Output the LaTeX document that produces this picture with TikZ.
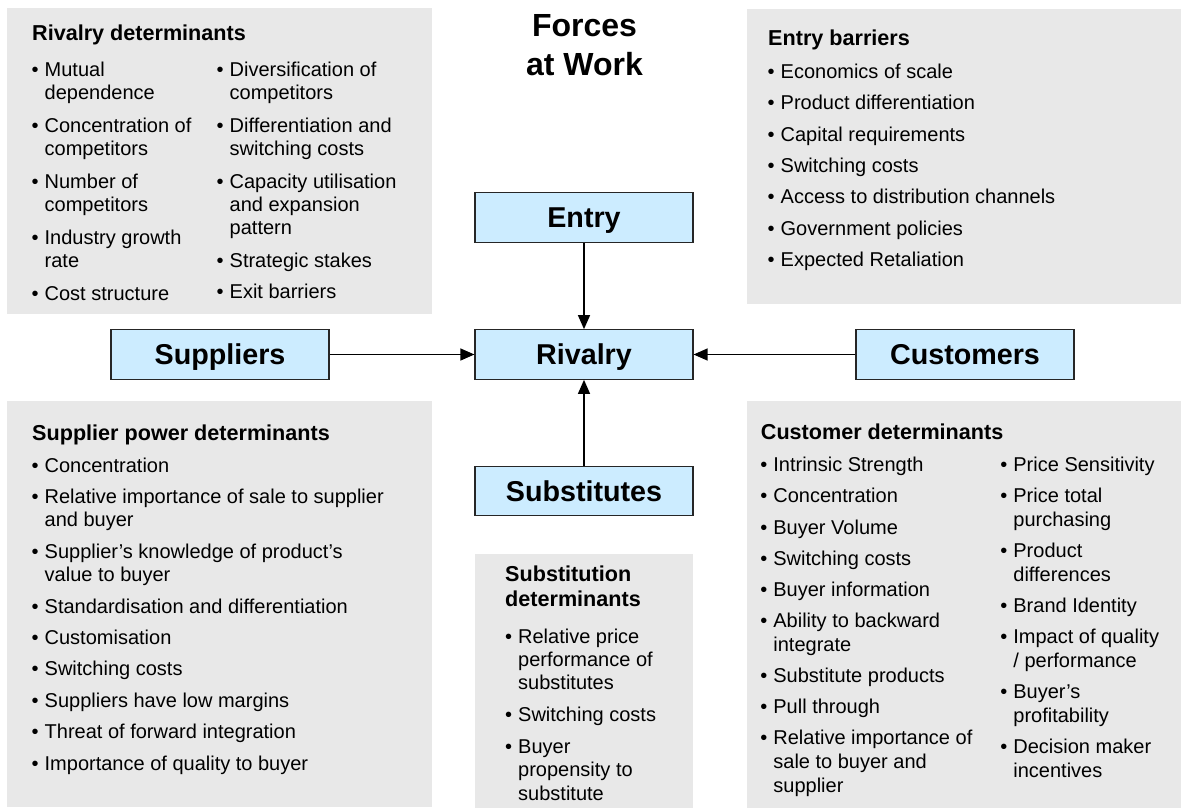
\documentclass[tikz,border=0pt]{standalone}
\usepackage{fontspec}
\setmainfont{Liberation Sans}
\usetikzlibrary{arrows.meta}
\definecolor{greybg}{RGB}{232,232,232}
\definecolor{forceblue}{RGB}{204,236,255}
\newcommand{\blist}[2]{\fontsize{20}{#1}\selectfont\begin{tabular}[t]{@{}p{13pt}@{}l@{}}#2\end{tabular}}
\newcommand{\bt}{\textbullet}
\begin{document}
\begin{tikzpicture}[x=1pt,y=-1pt,
  greybox/.style={fill=greybg,draw=none},
  force/.style={draw=black!85,line width=1.2pt,fill=forceblue,minimum width=218pt,minimum height=49.5pt,inner sep=0pt,text height=20.5pt,text depth=0pt,font=\fontsize{28.7}{32}\selectfont\bfseries},
  heading/.style={anchor=base west,inner sep=0pt,font=\fontsize{21.6}{25}\selectfont\bfseries},
  listnode/.style={anchor=base west,inner sep=0pt},
  arr/.style={line width=1.3pt,-{Triangle[length=14pt,width=12pt]}}]
\useasboundingbox (0,0) rectangle (1181,809);
% grey panels
\fill[greybox] (7,8) rectangle (432,314);
\fill[greybox] (747,9) rectangle (1181,304);
\fill[greybox] (7,401) rectangle (432,807);
\fill[greybox] (475,554) rectangle (693,808);
\fill[greybox] (747,401) rectangle (1181,808);
% title
\node[anchor=base,inner sep=0pt,font=\fontsize{32}{39}\selectfont\bfseries] (title) at (584.5,36)
  {\begin{tabular}[t]{@{}c@{}}Forces\\at Work\end{tabular}};
% force boxes
\node[force] (entry) at (584,217.5) {Entry};
\node[force] (rivalry) at (584,354.5) {Rivalry};
\node[force] (substitutes) at (584,491) {Substitutes};
\node[force] (suppliers) at (220,354.5) {Suppliers};
\node[force] (customers) at (965,354.5) {Customers};
% arrows
\draw[arr] (entry) -- (rivalry);
\draw[arr] (substitutes) -- (rivalry);
\draw[arr] (suppliers) -- (rivalry);
\draw[arr] (customers) -- (rivalry);
% Rivalry determinants
\node[heading] (rivh) at (32,40.7) {Rivalry determinants};
\node[listnode] (rivl1) at (31.5,76) {\blist{23.3}{%
\bt & Mutual\\ & dependence\\[9.4pt]
\bt & Concentration of\\ & competitors\\[9.4pt]
\bt & Number of\\ & competitors\\[9.4pt]
\bt & Industry growth\\ & rate\\[9.4pt]
\bt & Cost structure}};
\node[listnode] (rivl2) at (216.5,76) {\blist{23.3}{%
\bt & Diversification of\\ & competitors\\[9.4pt]
\bt & Differentiation and\\ & switching costs\\[9.4pt]
\bt & Capacity utilisation\\ & and expansion\\ & pattern\\[9.4pt]
\bt & Strategic stakes\\[8.2pt]
\bt & Exit barriers}};
% Entry barriers
\node[heading] (enth) at (768,45) {Entry barriers};
\node[listnode] (entl) at (767.5,78.3) {\blist{23.3}{%
\bt & Economics of scale\\[8.1pt]
\bt & Product differentiation\\[8.1pt]
\bt & Capital requirements\\[8.1pt]
\bt & Switching costs\\[8.1pt]
\bt & Access to distribution channels\\[8.1pt]
\bt & Government policies\\[8.1pt]
\bt & Expected Retaliation}};
% Supplier power determinants
\node[heading] (suph) at (32,440) {Supplier power determinants};
\node[listnode] (supl) at (31.5,472) {\blist{22.8}{%
\bt & Concentration\\[9pt]
\bt & Relative importance of sale to supplier\\ & and buyer\\[9pt]
\bt & Supplier’s knowledge of product’s\\ & value to buyer\\[9pt]
\bt & Standardisation and differentiation\\[8.6pt]
\bt & Customisation\\[8.6pt]
\bt & Switching costs\\[8.6pt]
\bt & Suppliers have low margins\\[8.6pt]
\bt & Threat of forward integration\\[8.6pt]
\bt & Importance of quality to buyer}};
% Substitution determinants
\node[heading,font=\fontsize{21.6}{25}\selectfont\bfseries] (subh) at (505,581.7)
  {\begin{tabular}[t]{@{}l@{}}Substitution\\determinants\end{tabular}};
\node[listnode] (subl) at (505,643.3) {\blist{23.3}{%
\bt & Relative price\\ & performance of\\ & substitutes\\[8.5pt]
\bt & Switching costs\\[8.5pt]
\bt & Buyer\\ & propensity to\\ & substitute}};
% Customer determinants
\node[heading] (cush) at (760.7,439.3) {Customer determinants};
\node[listnode] (cusl1) at (760.2,471.7) {\blist{23.6}{%
\bt & Intrinsic Strength\\[7.6pt]
\bt & Concentration\\[7.6pt]
\bt & Buyer Volume\\[7.6pt]
\bt & Switching costs\\[7.6pt]
\bt & Buyer information\\[7.6pt]
\bt & Ability to backward\\ & integrate\\[7.6pt]
\bt & Substitute products\\[7.6pt]
\bt & Pull through\\[7.6pt]
\bt & Relative importance of\\ & sale to buyer and\\ & supplier}};
\node[listnode] (cusl2) at (1000.2,471.7) {\blist{23.8}{%
\bt & Price Sensitivity\\[7.3pt]
\bt & Price total\\ & purchasing\\[7.3pt]
\bt & Product\\ & differences\\[7.3pt]
\bt & Brand Identity\\[7.3pt]
\bt & Impact of quality\\ & / performance\\[7.3pt]
\bt & Buyer’s\\ & profitability\\[7.3pt]
\bt & Decision maker\\ & incentives}};
\end{tikzpicture}
\end{document}
